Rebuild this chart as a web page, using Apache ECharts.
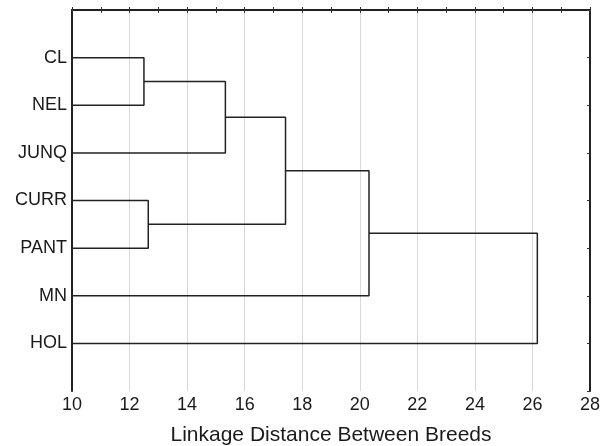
<!DOCTYPE html>
<html>
<head>
<meta charset="utf-8">
<script src="https://cdn.jsdelivr.net/npm/echarts@6/dist/echarts.min.js"></script>
<style>
  html, body { margin: 0; padding: 0; background: #fff; }
  #main { width: 614px; height: 446px; }
</style>
</head>
<body>
<div id="main"></div>
<script>
    // leaves top to bottom
    const leaves = ['CL', 'NEL', 'JUNQ', 'CURR', 'PANT', 'MN', 'HOL'];
    // merges: node ids 0..6 are leaves, each merge makes node 7, 8, ...
    const mergeLeft = [0, 7, 3, 8, 10, 11];
    const mergeRight = [1, 2, 4, 9, 5, 6];
    const mergeHeight = [12.5, 15.33, 12.65, 17.42, 20.32, 26.17];
    const xTicks = [10, 12, 14, 16, 18, 20, 22, 24, 26, 28];

    const xMin = xTicks[0];
    const nodeX = leaves.map(function () { return xMin; });
    const nodeY = leaves.map(function (n, i) { return i + 1; });

    const series = [];
    for (let i = 0; i < mergeHeight.length; i++) {
        const a = mergeLeft[i], b = mergeRight[i], h = mergeHeight[i];
        series.push({
            type: 'line',
            symbol: 'none',
            silent: true,
            lineStyle: {color: '#222', width: 1.5},
            data: [[nodeX[a], nodeY[a]], [h, nodeY[a]], [h, nodeY[b]], [nodeX[b], nodeY[b]]]
        });
        nodeX.push(h);
        nodeY.push((nodeY[a] + nodeY[b]) / 2);
    }

    const font = 'Liberation Sans, Arial, Helvetica, sans-serif';
    const myChart = echarts.init(document.getElementById('main'));
    const option = {
        animation: false,
        grid: {left: 72, right: 24, top: 10, bottom: 55, containLabel: false, outerBoundsMode: 'none'},
        xAxis: [{
            type: 'value',
            min: xMin,
            max: xTicks[xTicks.length - 1],
            interval: 2,
            name: 'Linkage Distance Between Breeds',
            nameLocation: 'middle',
            nameGap: 34,
            nameTextStyle: {fontFamily: font, fontSize: 21, color: '#1a1a1a'},
            axisLine: {lineStyle: {color: '#222', width: 2}},
            axisTick: {inside: true, length: 3, lineStyle: {color: '#333'}},
            minorTick: {show: true, splitNumber: 2, length: 3, lineStyle: {color: '#333'}},
            axisLabel: {fontFamily: font, fontSize: 18, color: '#1a1a1a', margin: 5},
            splitLine: {show: true, lineStyle: {color: '#d9d9d9', width: 1}}
        }, {
            type: 'value',
            position: 'top',
            min: xMin,
            max: xTicks[xTicks.length - 1],
            interval: 2,
            axisLine: {show: true, lineStyle: {color: '#222', width: 1.5}},
            axisTick: {show: true, inside: true, length: 3, lineStyle: {color: '#333'}},
            minorTick: {show: true, splitNumber: 2, length: 3, lineStyle: {color: '#333'}},
            axisLabel: {show: false},
            splitLine: {show: false}
        }],
        yAxis: [{
            type: 'value',
            inverse: true,
            min: 0,
            max: leaves.length + 1,
            interval: 1,
            axisLine: {show: true, lineStyle: {color: '#222', width: 2}},
            axisTick: {show: false},
            axisLabel: {
                fontFamily: font, fontSize: 18, color: '#1a1a1a', margin: 5,
                formatter: function (v) { return leaves[v - 1] || ''; }
            },
            splitLine: {show: false}
        }, {
            type: 'value',
            position: 'right',
            inverse: true,
            min: 0,
            max: leaves.length + 1,
            interval: 1,
            axisLine: {show: true, lineStyle: {color: '#222', width: 2}},
            axisTick: {show: true, inside: true, length: 3, lineStyle: {color: '#333'}},
            axisLabel: {show: false},
            splitLine: {show: false}
        }],
        series: series
    };
    myChart.setOption(option);
</script>
</body>
</html>
